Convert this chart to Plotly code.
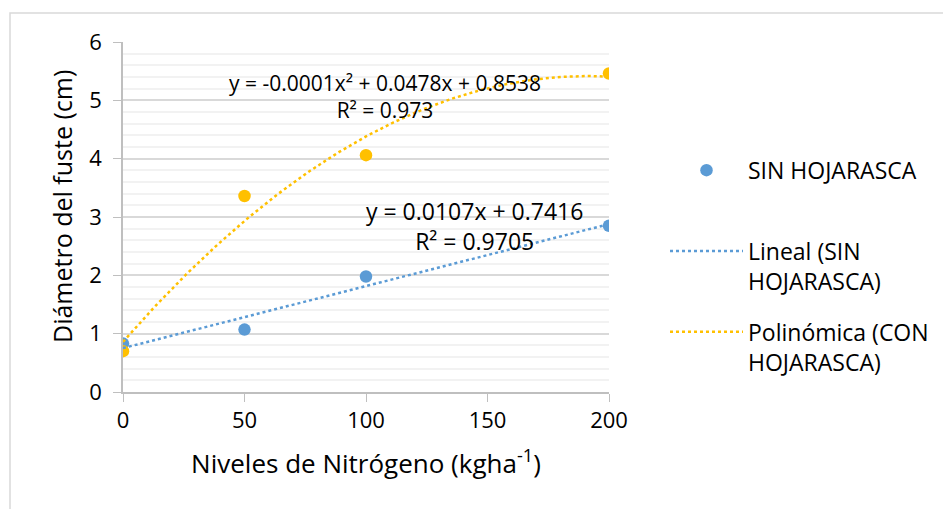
import numpy as np
import plotly.graph_objects as go

# Data
niveles = [0, 50, 100, 200]
sin_hojarasca = [0.83, 1.07, 1.98, 2.85]
con_hojarasca = [0.70, 3.36, 4.06, 5.46]
y_ticks = [0, 1, 2, 3, 4, 5, 6]
x_ticks = [0, 50, 100, 150, 200]

eq_lin = "y = 0.0107x + 0.7416<br>R² = 0.9705"
eq_pol = "y = -0.0001x² + 0.0478x + 0.8538<br>R² = 0.973"
y_title = "Diámetro del fuste (cm)"
x_title = "Niveles de Nitrógeno (kgha<sup>-1</sup>)"

BLUE = "#5B9BD5"
ORANGE = "#FFC000"
FONT = "Open Sans"

xs = np.linspace(0, 200, 201)
lin = np.polyfit(niveles, sin_hojarasca, 1)
pol = np.polyfit(niveles, con_hojarasca, 2)

fig = go.Figure()
fig.add_trace(go.Scatter(x=niveles, y=sin_hojarasca, mode="markers", name="SIN HOJARASCA<br>\u00a0",
                         marker=dict(color=BLUE, size=12.5), legendgroup="a"))
fig.add_trace(go.Scatter(x=niveles, y=con_hojarasca, mode="markers", name="CON HOJARASCA",
                         marker=dict(color=ORANGE, size=12.5), showlegend=False))
fig.add_trace(go.Scatter(x=xs, y=np.polyval(lin, xs), mode="lines", name="Lineal (SIN<br>HOJARASCA)",
                         line=dict(color=BLUE, width=2.5, dash="dot"), legendgroup="b"))
fig.add_trace(go.Scatter(x=xs, y=np.polyval(pol, xs), mode="lines", name="Polinómica (CON<br>HOJARASCA)",
                         line=dict(color=ORANGE, width=2.5, dash="dot"), legendgroup="c"))

fig.add_annotation(x=0.54, y=5.06, xref="paper", yref="y", text=eq_pol, showarrow=False,
                   xanchor="center", yanchor="middle", font=dict(size=21, color="#000"))
fig.add_annotation(x=0.724, y=2.84, xref="paper", yref="y", text=eq_lin, showarrow=False,
                   xanchor="center", yanchor="middle", font=dict(size=23, color="#000"))

# chart border
L, W, T, H = 123, 486, 42, 350
fig.add_shape(type="rect", xref="paper", yref="paper",
              x0=(10 - L) / W, x1=(960 - L) / W, y0=(392 - 520) / H, y1=(392 - 13) / H,
              line=dict(color="#D9D9D9", width=1.5), fillcolor="rgba(0,0,0,0)", layer="below")

# y axis title
fig.add_annotation(x=(62 - L) / W, y=(392 - 207) / H, xref="paper", yref="paper", text=y_title,
                   textangle=-90, showarrow=False, xanchor="center", yanchor="middle",
                   font=dict(size=25, color="#000"))

fig.update_layout(
    width=943, height=509,
    margin=dict(l=L, r=943 - L - W, t=T, b=509 - T - H, autoexpand=False),
    paper_bgcolor="white", plot_bgcolor="white",
    font=dict(family=FONT, size=21, color="#000"),
    showlegend=True,
    legend=dict(x=(665 - L) / W, y=0.695, xanchor="left", yanchor="top", traceorder="grouped",
                tracegroupgap=18, itemwidth=73, valign="top", font=dict(size=23)),
    xaxis=dict(range=[0, 200], tickvals=x_ticks, showgrid=False, zeroline=False,
               showline=True, linecolor="#BFBFBF", linewidth=1.5, ticks="outside",
               tickcolor="#BFBFBF", ticklen=8, tickfont=dict(size=22),
               title=dict(text=x_title, font=dict(size=26), standoff=22)),
    yaxis=dict(range=[0, 6], tickvals=y_ticks, showgrid=True, gridcolor="#D9D9D9", gridwidth=1.5,
               zeroline=False, showline=True, linecolor="#BFBFBF", linewidth=1.5,
               ticks="outside", tickcolor="#BFBFBF", ticklen=8, tickfont=dict(size=22),
               ticklabelstandoff=7,
               minor=dict(dtick=0.2, showgrid=True, gridcolor="#F2F2F2", gridwidth=1.5)),
)

fig.write_html("out.html", config={"displayModeBar": False},
               post_script="document.body.style.margin='0';")
